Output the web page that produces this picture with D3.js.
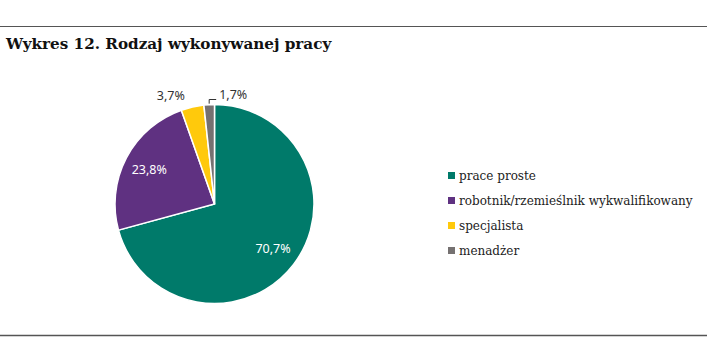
<!DOCTYPE html>
<html><head><meta charset="utf-8">
<script src="https://cdn.jsdelivr.net/npm/d3@7"></script>
<style>body{margin:0;background:#fff}svg{display:block}</style>
</head><body>
<svg id="c" width="707" height="361"></svg>
<script>
const categories = ["prace proste","robotnik/rzemieślnik wykwalifikowany","specjalista","menadżer"];
const values = [70.7, 23.8, 3.7, 1.7];
const labels = ["70,7%","23,8%","3,7%","1,7%"];
const colors = ["#007A6A","#5F3181","#FFC90C","#757171"];

const svg = d3.select("#c");
svg.append("rect").attr("width",707).attr("height",361).attr("fill","#fff");
svg.append("line").attr("x1",0).attr("x2",707).attr("y1",26.5).attr("y2",26.5).attr("stroke","#555").attr("stroke-width",1.2);
svg.append("line").attr("x1",0).attr("x2",707).attr("y1",335.5).attr("y2",335.5).attr("stroke","#555").attr("stroke-width",1.5);
svg.append("text").attr("x",6).attr("y",49).attr("font-family","'DejaVu Serif','Liberation Serif',serif")
  .attr("font-weight","bold").attr("font-size",15.2).attr("fill","#111").text("Wykres 12. Rodzaj wykonywanej pracy");

const cx=214.5, cy=204, r=99.5;
const pie = d3.pie().sort(null).value(d=>d)(values);
const arc = d3.arc().innerRadius(0).outerRadius(r);
const g = svg.append("g").attr("transform",`translate(${cx},${cy})`);
g.selectAll("path").data(pie).join("path").attr("d",arc)
  .attr("fill",(d,i)=>colors[i]).attr("stroke","#fff").attr("stroke-width",1.5);

const lf = "'Noto Sans','Liberation Sans',sans-serif";
const inArc = d3.arc().innerRadius(r*0.74).outerRadius(r*0.74);
[0,1].forEach(i=>{
  const [x,y]=inArc.centroid(pie[i]);
  g.append("text").attr("x",x).attr("y",y).attr("text-anchor","middle").attr("dy","0.35em")
   .attr("font-family",lf).attr("font-size",12.5).attr("fill","#fff").text(labels[i]);
});
// outside labels
const outArc = d3.arc().innerRadius(r+12).outerRadius(r+12);
{
  const [x,y]=outArc.centroid(pie[2]);
  g.append("text").attr("x",x-19).attr("y",y).attr("text-anchor","middle").attr("dy","0.35em")
   .attr("font-family",lf).attr("font-size",12.5).attr("fill","#333").text(labels[2]);
}
{
  const a = (pie[3].startAngle+pie[3].endAngle)/2;
  const px = r*Math.sin(a), py=-r*Math.cos(a);
  g.append("path").attr("d",`M${px},${py-1}V${-r-5}H${px+7}`).attr("fill","none").attr("stroke","#333").attr("stroke-width",1);
  g.append("text").attr("x",px+10).attr("y",-r-10).attr("dy","0.35em")
   .attr("font-family",lf).attr("font-size",12.5).attr("fill","#333").text(labels[3]);
}

const lg = svg.append("g");
categories.forEach((c,i)=>{
  const y = 175.5 + i*25;
  lg.append("rect").attr("x",448).attr("y",y-3.5).attr("width",7).attr("height",7).attr("fill",colors[i]);
  lg.append("text").attr("x",459).attr("y",y).attr("dy","0.35em")
   .attr("font-family","'DejaVu Serif','Liberation Serif',serif").attr("font-size",12).attr("fill","#222").text(c);
});
</script>
</body></html>
